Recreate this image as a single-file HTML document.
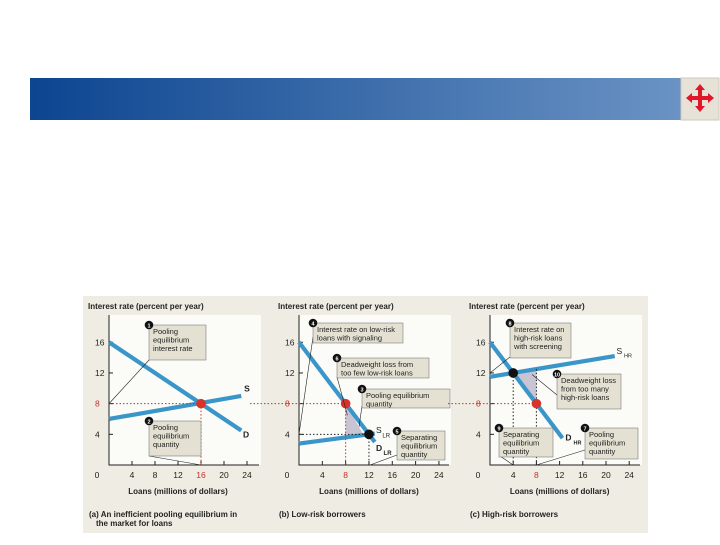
<!DOCTYPE html>
<html><head><meta charset="utf-8"><style>
body{margin:0;width:720px;height:540px;background:#fff;overflow:hidden;font-family:"Liberation Sans",sans-serif}
svg text{font-family:"Liberation Sans",sans-serif}
</style></head><body>
<svg id="s" width="720" height="540" xmlns="http://www.w3.org/2000/svg">
<defs><linearGradient id="g" x1="0" x2="1"><stop offset="0" stop-color="#0c4590"/><stop offset="1" stop-color="#6e96c6"/></linearGradient></defs>
<rect x="30" y="78" width="676" height="42" fill="url(#g)"/>
<g>
<rect x="681" y="78" width="38" height="42" fill="#e6e2d8" stroke="#cfcabd"/>
<path d="M700 84 l5 6 h-3 v6 h6 v-3 l6 5 l-6 5 v-3 h-6 v6 h3 l-5 6 l-5 -6 h3 v-6 h-6 v3 l-6 -5 l6 -5 v3 h6 v-6 h-3z" fill="#e0162b"/>
</g>
<rect x="83" y="296" width="565" height="237" fill="#efede3"/>
<g id="charts"></g>
</svg>
<script>
// Data
const yTicks=[4,8,12,16];
const xTicks=[0,4,8,12,16,20,24];
const aDemandX=[0,23], aDemandY=[16,4.5];
const aSupplyX=[0,23], aSupplyY=[6,9];
const aEq=[16,8];
const bDemandX=[0,13], bDemandY=[16,3];
const bSupplyX=[0,13], bSupplyY=[2.8,4.1];
const bPool=[8,8], bSep=[12,4];
const cDemandX=[0,12.5], cDemandY=[16,3.5];
const cSupplyX=[0,21.5], cSupplyY=[11.5,14.2];
const cPool=[8,8], cSep=[4,12];

const NS="http://www.w3.org/2000/svg";
const root=document.getElementById('charts');
function el(t,a,p){const e=document.createElementNS(NS,t);for(const k in a)e.setAttribute(k,a[k]);(p||root).appendChild(e);return e;}
function txt(x,y,s,a,p){const e=el('text',Object.assign({x:x,y:y,'font-size':8,fill:'#222'},a||{}),p);e.textContent=s;return e;}

function panel(name,x0,sx,redX,title){
  const g=el('g',{});
  
  
  const y0=465, sy=7.67;
  const X=v=>x0+v*sx, Y=v=>y0-v*sy;
  el('rect',{x:x0,y:315,width:152,height:y0-315,fill:'#fbfbf8'},g);
  const ax=el('path',{d:`M${x0} 315 V${y0} H${x0+150}`,stroke:'#222','stroke-width':1,fill:'none'},g);
  
  
  const yt=txt(x0-21,309,'Interest rate (percent per year)',{'font-weight':'bold','font-size':8},g);
  
  
  const xt=txt(X(12),494,'Loans (millions of dollars)',{'font-weight':'bold','font-size':8,'text-anchor':'middle'},g);
  
  
  const tt=txt(x0-20,517,title[0],{'font-weight':'bold','font-size':8},g);
  
  
  if(title[1])txt(x0-13,526,title[1],{'font-weight':'bold','font-size':8},g);
  yTicks.forEach(v=>{
    el('line',{x1:x0,x2:x0+4,y1:Y(v),y2:Y(v),stroke:'#222'},g);
    const t=txt(x0-14,Y(v)+3,String(v),{fill:v===8?'#c8302a':'#222','font-size':8.5},g);
    
    
  });
  xTicks.forEach(v=>{
    if(v>0)el('line',{x1:X(v),x2:X(v),y1:y0,y2:y0-4,stroke:'#222'},g);
    const t=txt(v===0?x0-12:X(v),478,String(v),{'text-anchor':'middle','font-size':8.5,fill:v===redX?'#c8302a':'#222'},g);
    
    
  });
  return {g,X,Y};
}
function line(p,xs,ys,name){
  const l=el('line',{x1:p.X(xs[0]),y1:p.Y(ys[0]),x2:p.X(xs[1]),y2:p.Y(ys[1]),stroke:'#3a95c9','stroke-width':4.2,'stroke-linecap':'butt'},p.g);
  
  
}
function dot(p,pt,c,name){
  const d=el('circle',{cx:p.X(pt[0]),cy:p.Y(pt[1]),r:4.8,fill:c},p.g);
  
  
}
function dotted(p,x1,y1,x2,y2,c){el('line',{x1,y1,x2,y2,stroke:c,'stroke-width':1,'stroke-dasharray':'1.5,2'},p.g);}
function box(p,x,y,w,h,n,lines){
  const b=el('g',{},p.g);
  
  
  el('rect',{x:x,y:y,width:w,height:h,fill:'#e4e1d3',stroke:'#666','stroke-width':0.5},b);
  el('circle',{cx:x,cy:y,r:4.3,fill:'#111'},b);
  txt(x,y+2.5,String(n),{'font-size':5.5,fill:'#fff','text-anchor':'middle','font-weight':'bold'},b);
  lines.forEach((s,i)=>txt(x+4,y+9+i*8.5,s,{'font-size':7.5},b));
}
function leader(p,x1,y1,x2,y2){el('line',{x1,y1,x2,y2,stroke:'#222','stroke-width':0.6},p.g);}

// Panel a
const a=panel('panel-a',109,5.75,16,['(a) An inefficient pooling equilibrium in','the market for loans']);
line(a,aDemandX,aDemandY,'demand-line-a');
line(a,aSupplyX,aSupplyY,'supply-line-a');
dotted(a,a.X(0),a.Y(8),a.X(aEq[0]),a.Y(8),'#c8302a');
dotted(a,a.X(aEq[0]),a.Y(8),a.X(aEq[0]),465,'#c8302a');
dot(a,aEq,'#d8332b','pooling-equilibrium-a');
txt(a.X(23.5),a.Y(9.6),'S',{'font-weight':'bold','font-size':8.5});
txt(a.X(23.3),a.Y(3.6),'D',{'font-weight':'bold','font-size':8.5});
leader(a,109,a.Y(8),150,359);
box(a,149,325,57,35,1,['Pooling','equilibrium','interest rate']);
leader(a,149,456,a.X(16),465);
box(a,149,421,52,35,2,['Pooling','equilibrium','quantity']);

// Panel b
const b=panel('panel-b',299,5.83,8,['(b) Low-risk borrowers']);
el('polygon',{points:`${b.X(8)},${b.Y(8)} ${b.X(8)},${b.Y(3.6)} ${b.X(11.1)},${b.Y(3.9)}`,fill:'#c9c4d3'},b.g);
line(b,bDemandX,bDemandY,'demand-line-b');
line(b,bSupplyX,bSupplyY,'supply-line-b');
dotted(b,250,b.Y(8),b.X(8),b.Y(8),'#c8302a');
dotted(b,b.X(8),b.Y(8),b.X(8),465,'#c8302a');
dotted(b,b.X(0),b.Y(4),b.X(12),b.Y(4),'#222');
dotted(b,b.X(12),b.Y(4),b.X(12),465,'#222');
dot(b,bPool,'#d8332b','pooling-point-b');
dot(b,bSep,'#111','separating-equilibrium-b');
txt(b.X(13.2),b.Y(4.2),'S',{'font-size':8.5});txt(b.X(14.3),b.Y(3.6),'LR',{'font-size':6});
txt(b.X(13.2),b.Y(1.8),'D',{'font-size':8.5,'font-weight':'bold'});txt(b.X(14.5),b.Y(1.3),'LR',{'font-size':6,'font-weight':'bold'});
leader(b,299,b.Y(4),313,337);
box(b,313,323,90,20,4,['Interest rate on low-risk','loans with signaling']);
leader(b,337,377,b.X(8.3),b.Y(6.5));
box(b,337,358,92,20,6,['Deadweight loss from','too few low-risk loans']);
leader(b,362,406,b.X(10.3),b.Y(5));
box(b,362,389,88,19,3,['Pooling equilibrium','quantity']);
leader(b,397,455,b.X(12.2),465);
box(b,397,431,48,29,5,['Separating','equilibrium','quantity']);

// Panel c
const c=panel('panel-c',490,5.8,8,['(c) High-risk borrowers']);
el('polygon',{points:`${c.X(4.3)},${c.Y(12)} ${c.X(8)},${c.Y(12.5)} ${c.X(8)},${c.Y(8.4)}`,fill:'#c9c4d3'},c.g);
line(c,cDemandX,cDemandY,'demand-line-c');
line(c,cSupplyX,cSupplyY,'supply-line-c');
dotted(c,448,c.Y(8),c.X(8),c.Y(8),'#c8302a');
dotted(c,c.X(8),c.Y(12.5),c.X(8),465,'#222');
dotted(c,c.X(4),c.Y(12),c.X(4),465,'#222');
dot(c,cPool,'#d8332b','pooling-point-c');
dot(c,cSep,'#111','separating-equilibrium-c');
txt(c.X(21.8),c.Y(14.5),'S',{'font-size':8.5});txt(c.X(23.1),c.Y(14),'HR',{'font-size':5.5});
txt(c.X(13),c.Y(3.2),'D',{'font-size':8.5,'font-weight':'bold'});txt(c.X(14.4),c.Y(2.7),'HR',{'font-size':5.5,'font-weight':'bold'});
leader(c,490,c.Y(12),510,357);
box(c,510,323,61,35,8,['Interest rate on','high-risk loans','with screening']);
leader(c,532,c.Y(11.8),557,395);
box(c,557,374,64,35,10,['Deadweight loss','from too many','high-risk loans']);
leader(c,500,456,c.X(4),465);
box(c,499,428,54,29,9,['Separating','equilibrium','quantity']);
leader(c,585,450,c.X(8),465);
box(c,585,428,53,31,7,['Pooling','equilibrium','quantity']);
</script>
</body></html>
